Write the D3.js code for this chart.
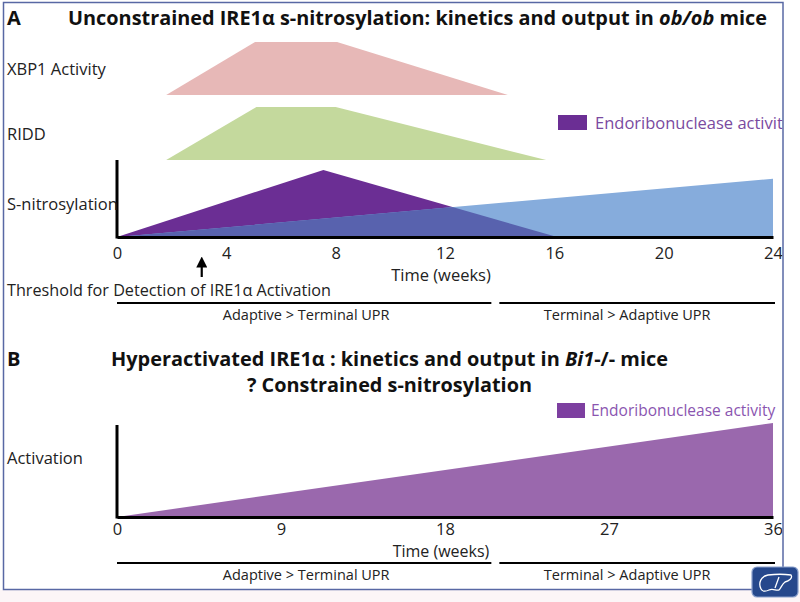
<!DOCTYPE html>
<html><head><meta charset="utf-8">
<script src="https://cdn.jsdelivr.net/npm/d3@7"></script>
<style>body{margin:0;background:#fff}svg{display:block}</style>
</head><body>
<svg id="c" width="800" height="602"></svg>
<script>
// ---------- data ----------
const ticksA = [0, 4, 8, 12, 16, 20, 24];          // weeks, panel A
const ticksB = [0, 9, 18, 27, 36];                 // weeks, panel B
const xbp1Activity = [{t:1.8,v:0},{t:5.05,v:1},{t:8.05,v:1},{t:14.3,v:0}];
const riddActivity = [{t:1.8,v:0},{t:5.1,v:1},{t:8.0,v:1},{t:15.7,v:0}];
const sNitrosylation = [{t:0,v:0},{t:7.55,v:1},{t:16.1,v:0}];
const endoActivityA = [{t:0,v:0},{t:24,v:0.87}];
const endoActivityB = [{t:0,v:0},{t:36,v:1}];
const thresholdWeek = 3.1;
const rowLabelsA = ["XBP1 Activity", "RIDD", "S-nitrosylation"];
const phaseLabels = ["Adaptive > Terminal UPR", "Terminal >  Adaptive UPR"];
const phaseSplit = 0.575; // fraction of axis length where phase line breaks

const svg = d3.select("#c");
const FONT = "'Open Sans', sans-serif";

// background strip + frame
svg.append("rect").attr("x",0).attr("y",590).attr("width",800).attr("height",12).attr("fill","#fcf5f7");
svg.append("defs").append("clipPath").attr("id","frameClip")
  .append("rect").attr("x",4).attr("y",3).attr("width",778.5).attr("height",586);
svg.select("defs").append("clipPath").attr("id","purpleClip")
  .append("path").attr("id","purpleClipPath");

const g = svg.append("g").attr("clip-path","url(#frameClip)");

// ---------- scales ----------
const xA = d3.scaleLinear().domain([0,24]).range([117,773]);
const yX = d3.scaleLinear().domain([0,1]).range([95,42]);
const yR = d3.scaleLinear().domain([0,1]).range([160,107]);
const yS = d3.scaleLinear().domain([0,1]).range([237,170]);
const xB = d3.scaleLinear().domain([0,36]).range([117,773]);
const yB = d3.scaleLinear().domain([0,1]).range([517,423]);

const areaGen = (x,y) => d3.area().x(d=>x(d.t)).y0(y(0)).y1(d=>y(d.v));

// ---------- Panel A ----------
g.append("path").datum(xbp1Activity).attr("d", areaGen(xA,yX)).attr("fill","#e7b8b7");
g.append("path").datum(riddActivity).attr("d", areaGen(xA,yR)).attr("fill","#c4d99d");

const blueD = areaGen(xA,yS)(endoActivityA);
const purpleD = areaGen(xA,yS)(sNitrosylation);
d3.select("#purpleClipPath").attr("d", purpleD);
g.append("path").attr("d", purpleD).attr("fill","#6b2e94");
g.append("path").attr("d", blueD).attr("fill","#86acdc");
g.append("path").attr("d", blueD).attr("fill","#5862ae").attr("clip-path","url(#purpleClip)");

// axes A
const axA = g.append("g").attr("transform",`translate(0,${yS(0)})`)
  .call(d3.axisBottom(xA).tickValues(ticksA).tickSize(0).tickPadding(10));
axA.select(".domain").attr("stroke","#000").attr("stroke-width",3);
axA.selectAll("text").attr("font-family",FONT).attr("font-size",16.5).attr("fill","#222");
g.append("line").attr("x1",xA(0)).attr("x2",xA(0)).attr("y1",160).attr("y2",yS(0)+1.5)
  .attr("stroke","#000").attr("stroke-width",3);

// row labels A
const rowY = [yX(0.5)+6, yR(0.5)+6, yS(0.5)+6];
rowLabelsA.forEach((t,i)=>{
  g.append("text").attr("x",7).attr("y",rowY[i]).text(t)
   .attr("font-family",FONT).attr("font-size",16.5).attr("fill","#222");
});

g.append("text").attr("x",(xA(0)+xA(24))/2 - 4).attr("y",281).attr("text-anchor","middle")
  .attr("font-family",FONT).attr("font-size",16.5).attr("fill","#222").text("Time (weeks)");

// threshold arrow
const arrowX = xA(thresholdWeek);
svg.select("defs").append("marker").attr("id","ah").attr("viewBox","0 0 10 10")
  .attr("refX",5).attr("refY",5).attr("markerWidth",5).attr("markerHeight",5).attr("orient","auto")
  .append("path").attr("d","M0,0 L10,5 L0,10 Z").attr("fill","#000");
g.append("line").attr("x1",arrowX).attr("x2",arrowX).attr("y1",277).attr("y2",262)
  .attr("stroke","#000").attr("stroke-width",2.2).attr("marker-end","url(#ah)");
g.append("text").attr("x",7).attr("y",296).text("Threshold for Detection of IRE1α Activation")
  .attr("font-family",FONT).attr("font-size",16.2).attr("fill","#222");

// legend A
g.append("rect").attr("x",558).attr("y",115).attr("width",29).attr("height",15).attr("fill","#6b2e94");
g.append("text").attr("x",595).attr("y",129).text("Endoribonuclease activity")
  .attr("font-family",FONT).attr("font-size",16.5).attr("fill","#7a4aa0");

// phase lines
function phases(x, yLine, yText){
  const x0 = x.range()[0], x1 = x.range()[1]+2;
  const xs = x0 + (x1-x0)*phaseSplit;
  g.append("line").attr("x1",x0).attr("x2",xs-4).attr("y1",yLine).attr("y2",yLine).attr("stroke","#000").attr("stroke-width",2);
  g.append("line").attr("x1",xs+4).attr("x2",x1).attr("y1",yLine).attr("y2",yLine).attr("stroke","#000").attr("stroke-width",2);
  g.append("text").attr("x",(x0+xs)/2).attr("y",yText).attr("text-anchor","middle").text(phaseLabels[0])
    .attr("font-family",FONT).attr("font-size",14.5).attr("fill","#222");
  g.append("text").attr("x",(xs+x1)/2-8).attr("y",yText).attr("text-anchor","middle").text(phaseLabels[1])
    .attr("font-family",FONT).attr("font-size",14.5).attr("fill","#222");
}
phases(xA, 303, 320);

// titles
g.append("text").attr("x",7).attr("y",25).text("A").attr("font-family",FONT).attr("font-weight",700).attr("font-size",20).attr("fill","#111");
const tA = g.append("text").attr("x",68).attr("y",25).attr("textLength",699).attr("lengthAdjust","spacingAndGlyphs")
  .attr("font-family",FONT).attr("font-weight",700).attr("font-size",20).attr("fill","#111");
tA.append("tspan").text("Unconstrained IRE1α s-nitrosylation: kinetics and output in ");
tA.append("tspan").attr("font-style","italic").text("ob/ob");
tA.append("tspan").text(" mice");

// ---------- Panel B ----------
g.append("text").attr("x",7).attr("y",366).text("B").attr("font-family",FONT).attr("font-weight",700).attr("font-size",20).attr("fill","#111");
const tB = g.append("text").attr("x",111).attr("y",366).attr("textLength",557).attr("lengthAdjust","spacingAndGlyphs")
  .attr("font-family",FONT).attr("font-weight",700).attr("font-size",20).attr("fill","#111");
tB.append("tspan").text("Hyperactivated IRE1α : kinetics and output in ");
tB.append("tspan").attr("font-style","italic").text("Bi1");
tB.append("tspan").text("-/- mice");
g.append("text").attr("x",247).attr("y",392).attr("textLength",285).attr("lengthAdjust","spacingAndGlyphs")
  .text("? Constrained s-nitrosylation").attr("font-family",FONT).attr("font-weight",700).attr("font-size",20).attr("fill","#111");

g.append("path").datum(endoActivityB).attr("d", areaGen(xB,yB)).attr("fill","#9a68ad");
const axB = g.append("g").attr("transform",`translate(0,${yB(0)})`)
  .call(d3.axisBottom(xB).tickValues(ticksB).tickSize(0).tickPadding(6));
axB.select(".domain").attr("stroke","#000").attr("stroke-width",3);
axB.selectAll("text").attr("font-family",FONT).attr("font-size",16.5).attr("fill","#222");
g.append("line").attr("x1",xB(0)).attr("x2",xB(0)).attr("y1",425).attr("y2",yB(0)+1.5)
  .attr("stroke","#000").attr("stroke-width",3);
g.append("text").attr("x",7).attr("y",464).text("Activation").attr("font-family",FONT).attr("font-size",16.5).attr("fill","#222");
g.append("text").attr("x",(xB(0)+xB(36))/2 - 4).attr("y",557).attr("text-anchor","middle")
  .attr("font-family",FONT).attr("font-size",16).attr("fill","#222").text("Time (weeks)");

g.append("rect").attr("x",557).attr("y",403).attr("width",28).attr("height",15).attr("fill","#7d3fa0");
g.append("text").attr("x",591).attr("y",416).text("Endoribonuclease activity")
  .attr("font-family",FONT).attr("font-size",15.5).attr("fill","#8a55b0");

phases(xB, 563, 580);

// frame
svg.append("rect").attr("x",3.5).attr("y",2.5).attr("width",779.5).attr("height",587)
  .attr("fill","none").attr("stroke","#5868a4").attr("stroke-width",1.5);

// logo
const logo = svg.append("g").attr("transform","translate(752,567)");
logo.append("rect").attr("width",46).attr("height",30).attr("rx",5).attr("fill","#26488c").attr("stroke","#8aa0cc").attr("stroke-width",1.2);
logo.append("path").attr("d","M9,22 C6,16 9,9 16,8 C24,7 32,7 39,8 C41,11 37,14 33,15 C30,17 29,21 27,23 C24,24 21,21 17,23 C13,25 10,24 9,22 Z M27,10 L23,21")
  .attr("fill","none").attr("stroke","#fff").attr("stroke-width",1.3);
</script>
</body></html>
